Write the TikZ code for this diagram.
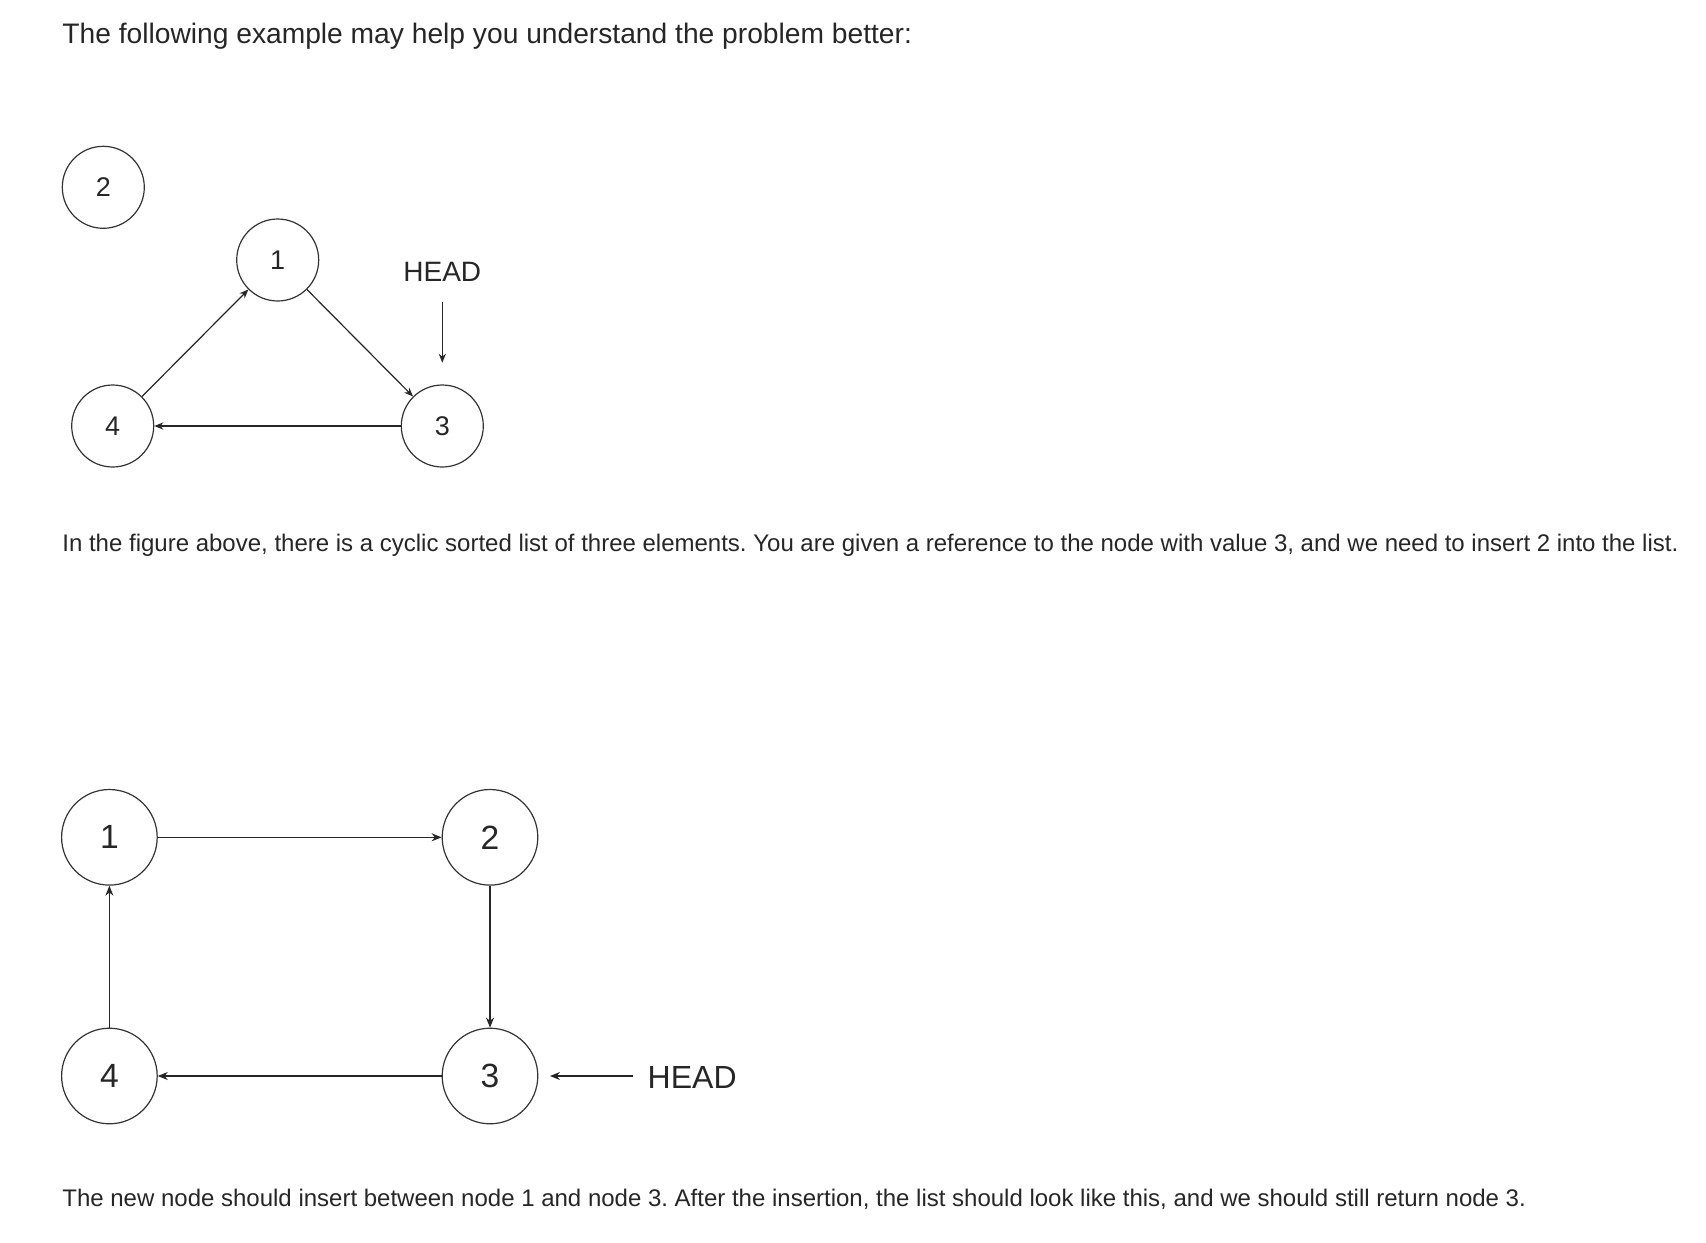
\documentclass[tikz,border=0pt]{standalone}
\usepackage{fontspec}
\setmainfont{Liberation Sans}
\usepackage{xcolor}
\usepackage{tikz}
\usetikzlibrary{positioning,arrows.meta}
\frenchspacing

\begin{document}
\begin{tikzpicture}[x=50pt,y=-50pt,
    every node/.style={text=black!85},
    elem/.style={circle,draw=black!80,line width=0.6pt,minimum size=41pt,inner sep=0pt,font=\fontsize{13.5}{16}\selectfont},
    bigelem/.style={circle,draw=black!80,line width=0.6pt,minimum size=47.8pt,inner sep=0pt,font=\fontsize{16.8}{20}\selectfont},
    link/.style={draw=black!85,line width=0.6pt,-{Stealth[length=4.5pt,width=3.6pt]}},
    biglink/.style={link,-{Stealth[length=5pt,width=4pt]}},
    para/.style={anchor=base west,inner sep=0pt,font=\fontsize{12}{15}\selectfont}]
    \useasboundingbox (0,0) rectangle (17.06,12.42);
    \node [para,font=\fontsize{14.1}{17}\selectfont] (T1) at (0.62,0.433) {The following example may help you understand the problem better:};
    % before insertion
    \node [elem] (A2) at (1.033,1.873) {2};
    \node [elem] (A1) at (2.777,2.600) {1};
    \node [elem] (A3) at (4.423,4.260) {3};
    \node [elem] (A4) at (1.127,4.260) {4};
    \node [anchor=base,inner sep=0pt,font=\fontsize{14}{17}\selectfont] (HA) at (4.423,2.817) {HEAD};
    \coordinate (HAs) at (4.423,3.017);
    \coordinate (HAe) at (4.423,3.627);
    \draw[link] (A4) -- (A1);
    \draw[link] (A1) -- (A3);
    \draw[link] (A3) -- (A4);
    \draw[link] (HAs) -- (HAe);
    \node [para] (T2) at (0.62,5.517) {In the figure above, there is a cyclic sorted list of three elements. You are given a reference to the node with value 3, and we need to insert 2 into the list.};
    % after insertion
    \node [bigelem] (B1) at (1.094,8.373) {1};
    \node [bigelem] (B2) at (4.900,8.373) {2};
    \node [bigelem] (B3) at (4.900,10.760) {3};
    \node [bigelem] (B4) at (1.094,10.760) {4};
    \node [anchor=base west,inner sep=0pt,font=\fontsize{16}{19}\selectfont] (HB) at (6.473,10.883) {HEAD};
    \coordinate (HBs) at (6.327,10.760);
    \coordinate (HBe) at (5.500,10.760);
    \draw[biglink] (B1) -- (B2);
    \draw[biglink] (B2) -- (B3);
    \draw[biglink] (B3) -- (B4);
    \draw[biglink] (B4) -- (B1);
    \draw[biglink] (HBs) -- (HBe);
    \node [para] (T3) at (0.62,12.067) {The new node should insert between node 1 and node 3. After the insertion, the list should look like this, and we should still return node 3.};
\end{tikzpicture}
\end{document}
